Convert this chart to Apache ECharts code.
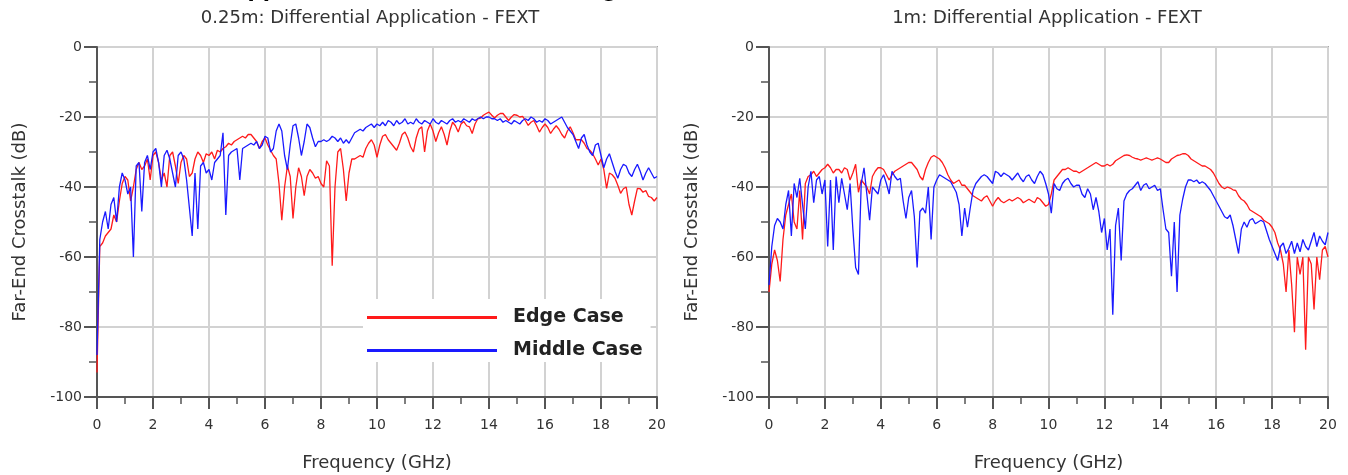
<!DOCTYPE html>
<html lang="en">
<head>
    <meta charset="UTF-8">
    <title>Differential Application - FEXT</title>
    <script src="https://cdn.jsdelivr.net/npm/echarts@6/dist/echarts.min.js"></script>
</head>
<body style="margin:0;background:#fff;">
    <div id="main" style="width:1348px;height:475px;"></div>
    <script type="text/javascript">
       // sample grid: 0 .. 20 GHz every 0.1 GHz
       var freqStep = 0.1;
       var xTicks = [0, 2, 4, 6, 8, 10, 12, 14, 16, 18, 20];
       var yTicks = [0, -20, -40, -60, -80, -100];
       var seriesNames = ['Edge Case', 'Middle Case'];
       var panelTitles = ['0.25m: Differential Application - FEXT', '1m: Differential Application - FEXT'];

       // 0.25m, edge case (red)
       var shortEdge = [
           -93,-57,-56,-54,-53,-52,-48,-50,-44,-39,
           -37,-38,-44,-40,-35,-33,-35,-34,-32,-38,
           -31,-30,-33,-38,-36,-40,-31,-30,-34,-39,
           -33,-31,-32,-37,-36,-32,-30,-31,-33,-30.5,
           -31,-30,-32,-29.5,-30,-29,-28.5,-27.5,-28,-27,
           -26.5,-26,-25.5,-26,-25,-25,-26,-27,-29,-27,
           -26,-28,-29.5,-31,-32,-39,-49.5,-40,-34,-37,
           -49,-40,-34.5,-37,-42.5,-37,-35,-36,-37.5,-37,
           -39,-40,-32.5,-34,-62.5,-40,-30,-29,-35,-44,
           -36,-32,-32,-31.5,-31,-31.5,-29,-27.5,-26.5,-28,
           -31.5,-28,-25.5,-25,-26.5,-27.5,-28.5,-29.5,-27.5,-25,
           -24.3,-26,-28.5,-30,-26,-23.5,-22.8,-30,-24,-22,
           -24,-27,-24.5,-22.8,-25,-28,-24,-21.5,-22.5,-24.3,
           -22,-21.3,-22.5,-22.8,-24.7,-22,-20.5,-20.3,-19.5,-19,
           -18.6,-19.5,-20.3,-19.5,-19,-19,-20,-21,-20,-19.3,
           -19.5,-20,-19.8,-21,-22.4,-21.5,-21,-22.5,-24.3,-23,
           -22,-23,-24.7,-23.5,-22.5,-23.5,-25,-26,-24,-22.8,
           -24.5,-26.5,-26.5,-26.5,-27.5,-29,-29.5,-30.5,-32,-33.7,
           -32,-35,-40.4,-36,-36.5,-37.5,-39.5,-41.8,-40.5,-40,
           -45,-48,-44,-40.4,-40.5,-41.5,-41,-42.7,-43,-44,
           -43
       ];

       // 0.25m, middle case (blue)
       var shortMiddle = [
           -88,-55,-50,-47,-52,-45,-43,-50,-40,-36,
           -38,-42,-40,-60,-34,-33,-47,-33,-31,-35,
           -30,-29,-33,-40,-31,-29.5,-32,-36,-40,-31,
           -30,-32,-38,-46,-54,-36,-52,-34,-33,-36,
           -35,-38,-33,-32,-31,-24.5,-48,-31,-30,-29.5,
           -29,-38,-29,-28.5,-28,-27.5,-28,-27,-29,-28,
           -25.5,-26,-30,-29,-24,-22,-24,-31,-35,-28,
           -22.5,-22,-26,-31,-27,-22,-23,-26,-28.5,-27,
           -27,-26.5,-27,-26.5,-25.5,-26,-27,-26,-27.5,-26.5,
           -27.5,-26,-24.5,-24,-23.5,-24,-23,-22.5,-22,-23,
           -22,-22.5,-21.5,-22.5,-21,-21.5,-22.5,-21,-22,-21.5,
           -20.5,-22,-21.5,-22,-20.5,-21.5,-22,-21,-21.5,-22,
           -20.5,-21.5,-22,-21,-21.5,-22,-21,-20.5,-21.5,-21,
           -21.5,-20.5,-21,-21.5,-20.5,-21,-20.5,-20,-20.5,-20,
           -20,-20.5,-20.5,-21,-20.5,-21.5,-21,-21.5,-22,-21,
           -21.5,-22,-21,-20.5,-21,-20,-20.5,-21.5,-21,-21.5,
           -20.5,-21,-22,-21.5,-21,-20.5,-20,-21.5,-23,-24,
           -25,-27,-29,-26,-25,-28,-30,-31,-28,-27.5,
           -31,-34.5,-32,-30.5,-33,-35.5,-37.5,-35,-33.5,-34,
           -36,-37,-35,-33.5,-35.5,-38,-36,-34.5,-36,-37.5,
           -37
       ];

       // 1m, edge case (red)
       var longEdge = [
           -70,-62,-58,-61,-67,-55,-48,-45,-42,-50,
           -52,-41,-55,-39,-37,-36.5,-35.5,-37,-36,-35,
           -34.5,-33.5,-34.5,-36,-35,-35,-36,-34.5,-35,-38,
           -36,-33.5,-41.5,-38,-39,-40,-42,-37,-35.5,-34.5,
           -34.5,-35,-36.5,-38,-36.5,-35.5,-35,-34.5,-34,-33.5,
           -33,-33,-34,-35,-37,-38,-35,-33,-31.5,-31,
           -31.5,-32,-33,-34.5,-36.5,-38,-39,-38.5,-38,-39.5,
           -39.5,-40.5,-41.5,-42.5,-43,-43.5,-44,-43,-42.5,-44,
           -45.5,-44,-43,-44,-44.5,-44,-43.5,-44,-43.5,-43,
           -43.5,-44.5,-44,-43.5,-44,-44.5,-43,-43.5,-44.5,-45.5,
           -45,-42,-38,-37,-36,-35,-35,-34.5,-35,-35.5,
           -35.5,-36,-35.5,-35,-34.5,-34,-33.5,-33,-33.5,-34,
           -34,-33.5,-34,-33.5,-32.5,-32,-31.5,-31,-30.8,-31,
           -31.5,-31.8,-32,-32.3,-32,-31.7,-32,-32.3,-32,-31.7,
           -32,-32.5,-33,-33,-32,-31.5,-31,-30.8,-30.5,-30.5,
           -31,-32,-32.5,-33,-33.5,-34,-34,-34.5,-35,-36,
           -37.5,-39,-40,-40.5,-40,-40.3,-40.8,-41,-42.5,-43.5,
           -44,-45,-46.5,-47,-47.5,-48,-48.5,-49.5,-50,-50.5,
           -51.5,-53,-56,-58,-62,-70,-58,-68,-81.5,-60,
           -65,-60,-86.5,-60,-62,-75,-60,-66.5,-58,-57,
           -60
       ];

       // 1m, middle case (blue)
       var longMiddle = [
           -68,-57,-51,-49,-50,-52,-45,-41,-54,-39,
           -43,-37.5,-45,-52,-40,-35.5,-44.5,-38,-37,-42,
           -38,-57,-38,-58,-37,-44.5,-37.5,-42,-46.5,-39,
           -52,-63,-65,-39,-34.5,-42,-49.5,-40,-41,-42,
           -38,-36.5,-39,-42,-35.5,-37,-38,-37.5,-44,-49,
           -43,-41,-48.5,-63,-47,-46,-47.5,-40,-55,-40,
           -38,-36.5,-37,-37.5,-38,-38.5,-40,-41.5,-45,-54,
           -46,-51.5,-46,-41,-39,-38,-37,-36.5,-37,-38,
           -39,-35.5,-36,-37,-36,-36.5,-37,-38,-37,-36,
           -37.5,-38.5,-37,-36.5,-38,-39,-37,-35.5,-36.5,-39,
           -42,-47.5,-39,-40.5,-41,-39,-38,-37.5,-39,-40,
           -39.5,-39.5,-42,-43,-40.5,-42,-46.5,-43,-47,-53,
           -49,-58,-52,-76.5,-51,-46,-61,-44,-42,-41,
           -40.5,-39.5,-38.5,-41,-39.5,-39,-40.5,-40,-39.5,-41,
           -40.5,-46.5,-52,-53,-65.5,-50,-70,-48,-43.5,-40,
           -38,-38,-38.5,-38,-39,-38.5,-39,-40,-41,-42.5,
           -44,-45.5,-47,-48.5,-49,-48,-51,-55,-59,-52,
           -50,-51.5,-49.5,-49,-50.5,-50,-49.5,-50,-52.5,-55,
           -57,-59,-61,-57,-56,-59,-57.5,-55.5,-59,-56,
           -58.5,-55,-57,-58,-55.5,-53,-57,-54,-55.5,-56.5,
           -53
       ];

       function pairs(values) {
           var out = [];
           for (var i = 0; i < values.length; i++) {
               out.push([Math.round(i * freqStep * 10) / 10, values[i]]);
           }
           return out;
       }

       var font = 'DejaVu Sans';
       var txt = '#333';

       function xAxisOf(idx) {
           return {
               gridIndex: idx, type: 'value', min: 0, max: 20, interval: 2,
               name: 'Frequency (GHz)', nameLocation: 'middle', nameGap: 57,
               nameTextStyle: {fontFamily: font, fontSize: 18, color: txt},
               axisLine: {show: true, onZero: false, lineStyle: {color: '#555', width: 2}},
               axisTick: {show: true, length: 12, lineStyle: {color: '#555', width: 2}},
               minorTick: {show: true, splitNumber: 2, length: 7, lineStyle: {color: '#555', width: 1.5}},
               axisLabel: {fontFamily: font, fontSize: 14, color: txt, margin: 21,
                   formatter: function (v) { return xTicks.indexOf(v) >= 0 ? String(v) : ''; }},
               splitLine: {show: true, lineStyle: {color: '#d2d2d2', width: 2}}
           };
       }

       function yAxisOf(idx) {
           return {
               gridIndex: idx, type: 'value', min: -100, max: 0, interval: 20,
               name: 'Far-End Crosstalk (dB)', nameLocation: 'middle', nameGap: 68,
               nameTextStyle: {fontFamily: font, fontSize: 18, color: txt},
               axisLine: {show: true, onZero: false, lineStyle: {color: '#555', width: 2}},
               axisTick: {show: true, length: 13, lineStyle: {color: '#555', width: 2}},
               minorTick: {show: true, splitNumber: 2, length: 8, lineStyle: {color: '#555', width: 1.5}},
               axisLabel: {fontFamily: font, fontSize: 14, color: txt, margin: 15,
                   formatter: function (v) { return yTicks.indexOf(v) >= 0 ? String(v) : ''; }},
               splitLine: {show: true, lineStyle: {color: '#d2d2d2', width: 2}}
           };
       }

       function lineSeries(name, idx, values, color) {
           return {
               name: name, type: 'line', xAxisIndex: idx, yAxisIndex: idx,
               data: pairs(values), symbol: 'none', showSymbol: false,
               color: color, lineStyle: {color: color, width: 1.3},
               animation: false
           };
       }

       var myChart = echarts.init(document.getElementById('main'));

       var option = {
           backgroundColor: '#fff',
           animation: false,
           grid: [
               {left: 97, top: 47, width: 560, height: 350, outerBoundsMode: 'none', containLabel: false,
                   show: true, borderColor: '#666', borderWidth: 1.5, backgroundColor: '#fff'},
               {left: 769, top: 47, width: 559, height: 350, outerBoundsMode: 'none', containLabel: false,
                   show: true, borderColor: '#666', borderWidth: 1.5, backgroundColor: '#fff'}
           ],
           xAxis: [xAxisOf(0), xAxisOf(1)],
           yAxis: [yAxisOf(0), yAxisOf(1)],
           legend: {
               data: seriesNames, orient: 'vertical', left: 363, top: 299,
               backgroundColor: '#fff', padding: [9, 8, 2, 4], itemGap: 14,
               icon: 'rect', itemWidth: 130, itemHeight: 3,
               textStyle: {fontFamily: font, fontWeight: 'bold', fontSize: 19, color: '#222', padding: [0, 0, 0, 11]}
           },
           graphic: [
               {type: 'text', x: 90, y: -8, style: {text: 'Differential Application FEXT Crosstalk - Edge vs Middle',
                   font: 'bold 21px "DejaVu Sans"', fill: '#000', align: 'left', verticalAlign: 'middle'}},
               {type: 'text', x: 370, y: 18, style: {text: panelTitles[0], font: '18px "DejaVu Sans"', fill: txt, align: 'center', verticalAlign: 'middle'}},
               {type: 'text', x: 1047, y: 18, style: {text: panelTitles[1], font: '18px "DejaVu Sans"', fill: txt, align: 'center', verticalAlign: 'middle'}}
           ],
           series: [
               lineSeries(seriesNames[0], 0, shortEdge, '#ff1a1a'),
               lineSeries(seriesNames[1], 0, shortMiddle, '#1a1aff'),
               lineSeries(seriesNames[0], 1, longEdge, '#ff1a1a'),
               lineSeries(seriesNames[1], 1, longMiddle, '#1a1aff')
           ]
       };

       myChart.setOption(option);
    </script>
</body>
</html>
